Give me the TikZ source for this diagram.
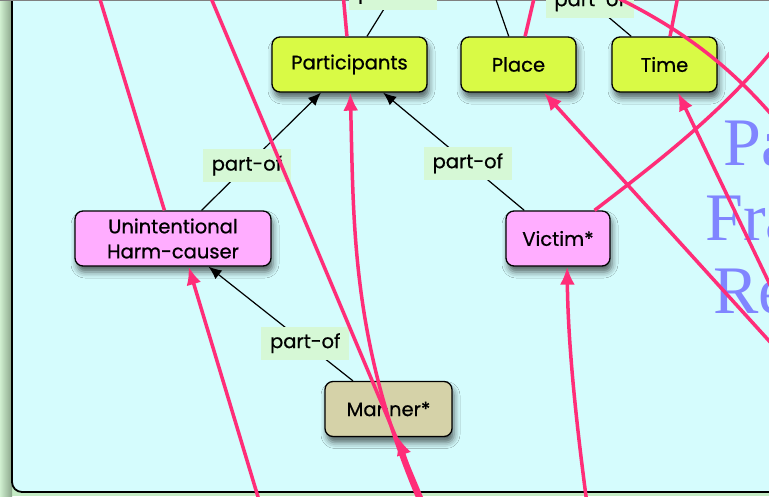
\documentclass[tikz,border=0pt]{standalone}
\usepackage{fontspec}
\setmainfont{Poppins}[FakeBold=0.7]
\newfontfamily\titlefont{Liberation Serif}
\usetikzlibrary{arrows.meta,shadows.blur}
\definecolor{panelbg}{HTML}{D5FCFD}
\definecolor{outerbg}{HTML}{C4EBC4}
\definecolor{rolefill}{HTML}{D9FA45}
\definecolor{agentfill}{HTML}{FFADFF}
\definecolor{mannerfill}{HTML}{D5D2A8}
\definecolor{tagfill}{HTML}{D6F8D6}
\definecolor{linkpink}{HTML}{FF2D78}
\definecolor{titleblue}{HTML}{8085FF}

\begin{document}
\begin{tikzpicture}[x=1pt,y=-1pt,
  box/.style={draw=black,line width=1.3pt,rounded corners=8pt,minimum height=55pt,
    inner sep=2pt,align=center,font=\fontsize{19.5}{25}\selectfont,
    blur shadow={shadow xshift=2pt,shadow yshift=-6pt,shadow blur radius=6pt,shadow opacity=60}},
  rolebox/.style={box,fill=rolefill},
  agentbox/.style={box,fill=agentfill},
  mannerbox/.style={box,fill=mannerfill},
  tag/.style={fill=tagfill,font=\fontsize{19.5}{22}\selectfont,minimum width=88pt,minimum height=33pt,inner sep=0pt},
  isa/.style={line width=1.2pt,-{Latex[length=13pt,width=11pt]}},
  rel/.style={draw=linkpink,line width=3.5pt},
  relto/.style={rel,-{Latex[length=18pt,width=15pt]}},
  bigword/.style={text=titleblue,anchor=base west,inner sep=0pt,font=\titlefont\fontsize{68}{74}\selectfont}]
\useasboundingbox (0,0) rectangle (769,496);
\clip (0,0) rectangle (769,496);
% frame
\fill[outerbg] (0,0) rectangle (769,496);
\shade[left color=outerbg!80!white,right color=outerbg!70!black] (0,0) rectangle (12,496);
\filldraw[fill=panelbg,draw=black,line width=1.8pt,rounded corners=10pt] (12,-30) rectangle (800,492);
\draw[gray,line width=1.5pt] (0,0.5) -- (769,0.5);
% title, cut at the edge
\node[bigword] (wordA) at (723,165) {Pa};
\node[bigword] (wordB) at (705,240) {Fra};
\node[bigword] (wordC) at (713,313) {Re};
% frame elements
\node[rolebox,minimum width=155pt] (part) at (349.5,64.5) {Participants};
\node[rolebox,minimum width=115pt] (place) at (518.5,64.5) {Place};
\node[rolebox,minimum width=105pt] (time) at (664.5,64.5) {Time};
\node[agentbox,minimum width=196pt] (harm) at (173,238.5) {Unintentional\\Harm-causer};
\node[agentbox,minimum width=104pt] (victim) at (558,238.5) {Victim*};
\node[mannerbox,minimum width=127pt] (manner) at (388.5,409) {Manner*};
% ends outside the view
\coordinate (event) at (458,-110);
\coordinate (harmup) at (88,-40);
\coordinate (diagtop) at (195,-40);
\coordinate (diagbot) at (435,530);
\coordinate (mannerlow) at (433,540);
\coordinate (partlow) at (437,540);
\coordinate (harmlow) at (271,540);
\coordinate (victimlow) at (592,540);
\coordinate (placelow) at (800,375);
\coordinate (timelow) at (785,316);
\coordinate (victimout) at (795,20);
\coordinate (crossA) at (590,-15);
\coordinate (crossB) at (800,150);
\coordinate (timeup) at (685,-40);
\coordinate (placeup) at (543,-40);
\coordinate (partup) at (340,-40);
% part-of links
\draw[isa] (harm) -- node[tag,pos=.38]{part-of} (part);
\draw[isa] (victim) -- node[tag,pos=.4]{part-of} (part);
\draw[isa] (manner) -- node[tag,pos=.33]{part-of} (harm);
\draw[isa] (part) -- node[tag,pos=.29]{part-of} (event);
\draw[isa] (place) -- node[tag,pos=.7]{part-of} (event);
\draw[isa] (time) -- node[tag,pos=.24]{part-of} (event);
% cross-frame links
\draw[rel] (harm) -- (harmup);
\draw[rel] (diagtop) -- (diagbot);
\draw[relto] (partlow) .. controls (350,360) and (354,230) .. (part);
\draw[relto] (mannerlow) -- (manner);
\draw[relto] (harmlow) -- (harm.-61);
\draw[relto] (victimlow) .. controls (575,420) and (568,340) .. (victim.-72);
\draw[relto] (placelow) -- (place);
\draw[relto] (timelow) -- (time);
\draw[rel] (victim) .. controls (660,160) and (740,100) .. (victimout);
\draw[rel] (crossA) .. controls (680,25) and (740,70) .. (crossB);
\draw[rel] (time) -- (timeup);
\draw[rel] (place) -- (placeup);
\draw[rel] (part) -- (partup);
\end{tikzpicture}
\end{document}
